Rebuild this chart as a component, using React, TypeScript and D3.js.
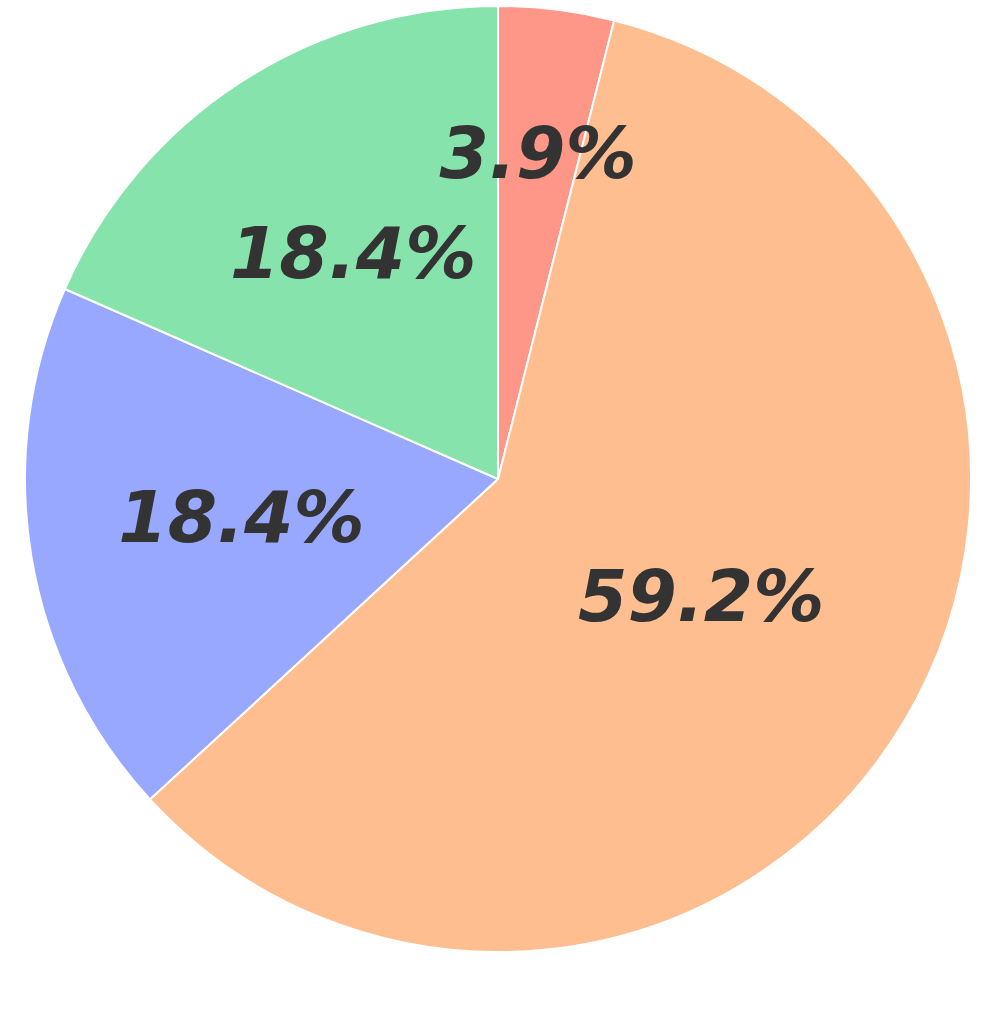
import React, { useRef, useEffect } from 'react';
import * as d3 from 'd3';

// slice data (counts), clockwise from 12 o'clock
const labels = ['A', 'B', 'C', 'D'];
const values = [3, 45, 14, 14];
const colors = ['#fe9788', '#ffbe8f', '#99a8ff', '#87e3ac'];
// how far out each percentage label sits (fraction of radius)
const labelRadius = [0.685, 0.5, 0.55, 0.56];

export default function App() {
  const ref = useRef<SVGSVGElement>(null);
  const width = 996;
  const height = 1018;

  useEffect(() => {
    const svg = d3.select(ref.current);
    svg.selectAll('*').remove();

    const cx = 498;
    const cy = 479;
    const r = 473;

    const data = labels.map((l, i) => ({ label: l, value: values[i], i }));
    const pie = d3.pie<any>().sort(null).value(d => d.value);
    const arcs = pie(data);
    const arc = d3.arc<any>().innerRadius(0).outerRadius(r);

    const g = svg.append('g').attr('transform', `translate(${cx},${cy})`);

    g.selectAll('path')
      .data(arcs)
      .enter()
      .append('path')
      .attr('d', arc)
      .attr('fill', d => colors[d.data.i])
      .attr('stroke', '#ffffff')
      .attr('stroke-width', 2)
      .attr('stroke-linejoin', 'round');

    const total = d3.sum(values);
    g.selectAll('text')
      .data(arcs)
      .enter()
      .append('text')
      .attr('transform', d => {
        const a = (d.startAngle + d.endAngle) / 2;
        const k = labelRadius[d.data.i] * r;
        return `translate(${Math.sin(a) * k},${-Math.cos(a) * k})`;
      })
      .attr('text-anchor', 'middle')
      .attr('dy', '0.29em')
      .attr('font-family', 'DejaVu Sans')
      .attr('font-weight', 'bold')
      .attr('font-style', 'italic')
      .attr('font-size', 71)
      .attr('fill', '#333333')
      .text(d => `${((d.data.value / total) * 100).toFixed(1)}%`);
  }, []);

  return (
    <svg
      ref={ref}
      width={width}
      height={height}
      style={{ position: 'absolute', left: 0, top: 0, display: 'block' }}
    />
  );
}
